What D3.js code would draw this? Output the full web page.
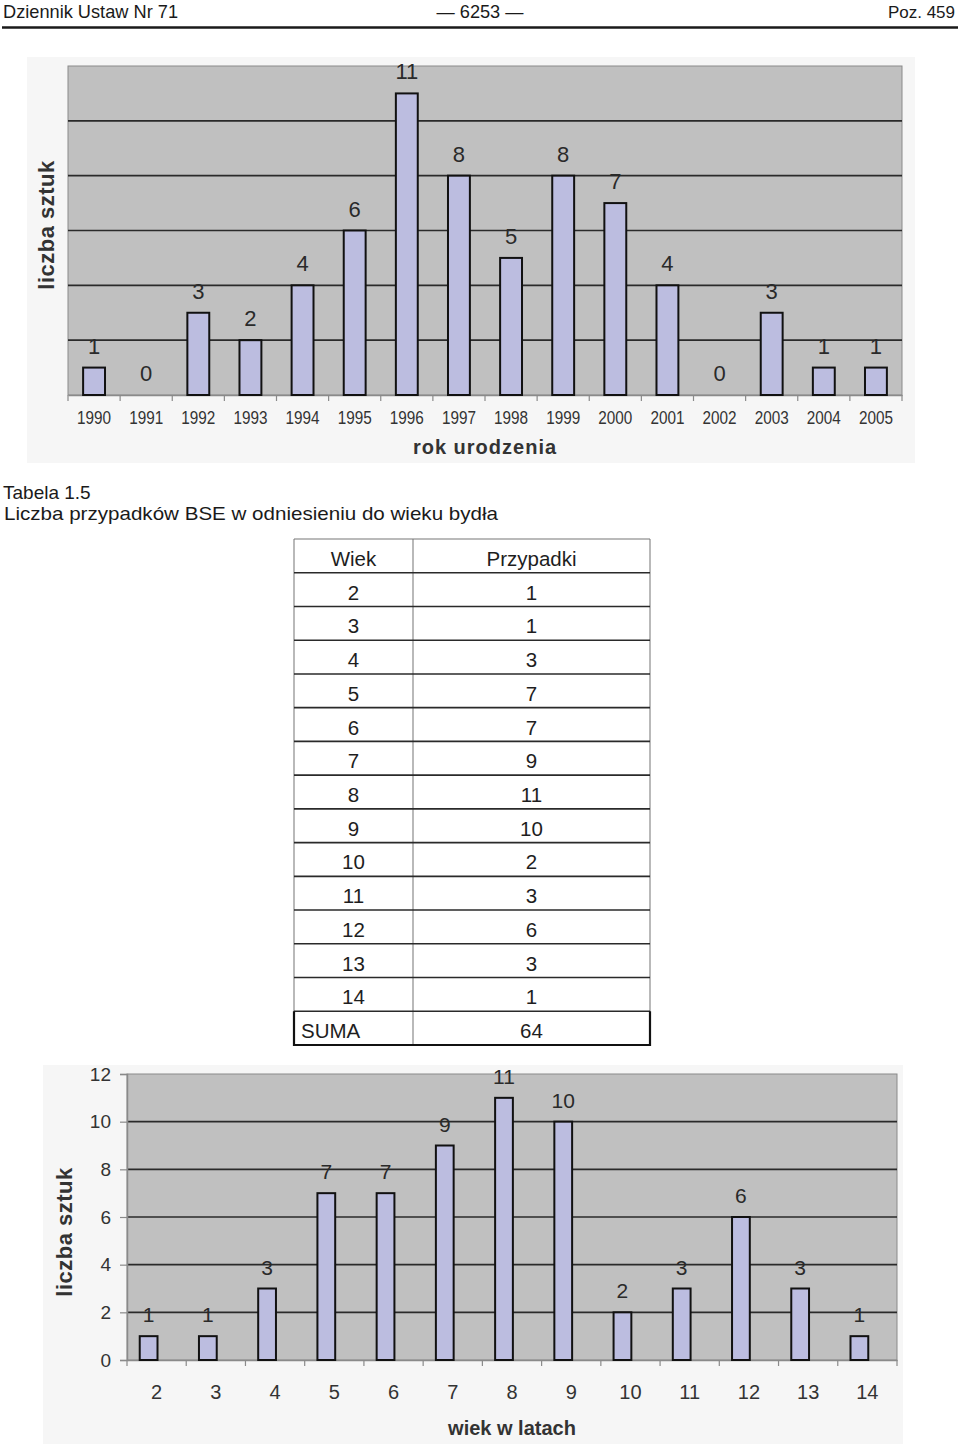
<!DOCTYPE html>
<html><head><meta charset="utf-8">
<script src="https://cdn.jsdelivr.net/npm/d3@7"></script>
<style>
html,body{margin:0;padding:0;background:#fff;}
svg text{font-family:"Liberation Sans",Arial,sans-serif;}
</style></head>
<body>
<svg id="page" width="960" height="1444"></svg>
<script>
// ---------- data ----------
const years = ["1990","1991","1992","1993","1994","1995","1996","1997","1998","1999","2000","2001","2002","2003","2004","2005"];
const yearCounts = [1,0,3,2,4,6,11,8,5,8,7,4,0,3,1,1];
const ages = ["2","3","4","5","6","7","8","9","10","11","12","13","14"];
const ageCounts = [1,1,3,7,7,9,11,10,2,3,6,3,1];
const yTicks = [0,2,4,6,8,10,12];
const tableHeader = ["Wiek","Przypadki"];
const sumLabel = "SUMA";

const svg = d3.select("#page");

function condense(sel, f){
  sel.each(function(){
    const l = this.getComputedTextLength();
    d3.select(this).attr("textLength", l*f).attr("lengthAdjust","spacingAndGlyphs");
  });
}

// ---------- header ----------
const hdr = svg.append("g").attr("fill","#1a1a1a").style("font-size","19px");
hdr.append("text").attr("x",3).attr("y",18).text("Dziennik Ustaw Nr 71").attr("textLength",175).attr("lengthAdjust","spacingAndGlyphs");
hdr.append("text").attr("x",480).attr("y",18).attr("text-anchor","middle").text("— 6253 —").attr("textLength",87).attr("lengthAdjust","spacingAndGlyphs");
hdr.append("text").attr("x",955).attr("y",18).attr("text-anchor","end").style("font-size","17px").text("Poz. 459");
svg.append("line").attr("x1",2).attr("x2",958).attr("y1",27.5).attr("y2",27.5).attr("stroke","#1a1a1a").attr("stroke-width",2.5);

// ---------- caption ----------
svg.append("text").attr("x",3).attr("y",499).style("font-size","19px").attr("fill","#1a1a1a").text("Tabela 1.5");
svg.append("text").attr("x",4).attr("y",520).style("font-size","19px").attr("fill","#1a1a1a")
  .text("Liczba przypadków BSE w odniesieniu do wieku bydła").attr("textLength",494).attr("lengthAdjust","spacingAndGlyphs");

// ---------- generic bar chart ----------
function barChart(o){
  const g = svg.append("g");
  g.append("rect").attr("x",o.bg[0]).attr("y",o.bg[1]).attr("width",o.bg[2]).attr("height",o.bg[3]).attr("fill","#f6f6f6");
  const x = d3.scaleBand().domain(o.cats).range([o.left,o.right]).paddingInner(o.pad).paddingOuter(o.pad/2);
  const y = d3.scaleLinear().domain([0,12]).range([o.bottom,o.top]);
  g.append("rect").attr("x",o.left).attr("y",o.top).attr("width",o.right-o.left).attr("height",o.bottom-o.top)
    .attr("fill","#c0c0c0").attr("stroke","#8a8a8a").attr("stroke-width",1);
  // gridlines
  g.selectAll(".grid").data(yTicks.filter(t=>t>0&&t<12)).join("line")
    .attr("x1",o.left).attr("x2",o.right).attr("y1",d=>y(d)).attr("y2",d=>y(d))
    .attr("stroke","#2a2a2a").attr("stroke-width",1.6);
  // x axis
  const step = x.step();
  const xa = g.append("g").attr("transform",`translate(0,${o.bottom})`)
    .call(d3.axisBottom(x).tickSize(0).tickPadding(0).tickFormat(""));
  xa.select(".domain").attr("stroke","#8a8a8a").attr("stroke-width",1.5);
  g.selectAll(".xt").data(d3.range(o.cats.length+1)).join("line")
    .attr("x1",i=>o.left+i*step).attr("x2",i=>o.left+i*step).attr("y1",o.bottom).attr("y2",o.bottom+6)
    .attr("stroke","#8a8a8a").attr("stroke-width",1.2);
  const xl = g.selectAll(".xl").data(o.cats).join("text")
    .attr("x",d=>x(d)+x.bandwidth()/2).attr("y",o.xLabelY).attr("text-anchor","middle")
    .style("font-size",o.xFont+"px").attr("fill","#333").text(d=>d);
  if(o.xCond) xl.call(condense,o.xCond);
  // y axis
  if(o.showY){
    const ya = g.append("g").attr("transform",`translate(${o.left},0)`)
      .call(d3.axisLeft(y).tickValues(yTicks).tickSize(7).tickPadding(9));
    ya.select(".domain").attr("stroke","#8a8a8a").attr("stroke-width",1.5);
    ya.selectAll(".tick line").attr("stroke","#8a8a8a").attr("stroke-width",1.2);
    ya.selectAll(".tick text").style("font-size","19px").attr("fill","#333")
      .style("font-family","'Liberation Sans',Arial,sans-serif");
  }
  // bars
  const bw = x.bandwidth();
  g.selectAll(".bar").data(o.vals).join("rect")
    .attr("x",(d,i)=>x(o.cats[i])+o.shift).attr("width",bw)
    .attr("y",d=>y(d)).attr("height",d=>o.bottom-y(d))
    .attr("fill","#bcbde0").attr("stroke","#111").attr("stroke-width",2)
    .attr("display",d=>d>0?null:"none");
  g.selectAll(".lab").data(o.vals).join("text")
    .attr("x",(d,i)=>x(o.cats[i])+o.shift+bw/2).attr("y",d=>y(d)-o.labGap)
    .attr("text-anchor","middle").style("font-size",o.labFont+"px").attr("fill","#2a2a2a").text(d=>d);
  // titles
  g.append("text").attr("x",o.xTitle[0]).attr("y",o.xTitle[1]).attr("text-anchor","middle")
    .style("font-size","20px").style("font-weight","bold").style("letter-spacing",o.xTitleLs+"px").attr("fill","#333").text(o.xTitleText);
  g.append("text").attr("transform",`translate(${o.yTitle[0]},${o.yTitle[1]}) rotate(-90)`).attr("text-anchor","middle")
    .style("font-size","22px").style("font-weight","bold").style("letter-spacing","0.5px").attr("fill","#333").text("liczba sztuk");
}

barChart({cats:years, vals:yearCounts, bg:[27,57,888,406], left:68, right:902, top:66, bottom:395, pad:0.58, shift:0,
  xLabelY:424, xFont:18, xCond:0.85, showY:false, labGap:14, labFont:22,
  xTitle:[485,454], xTitleLs:1, xTitleText:"rok urodzenia", yTitle:[54,225]});

barChart({cats:ages, vals:ageCounts, bg:[43,1065,860,379], left:127, right:897, top:1074, bottom:1360, pad:0.7, shift:-8,
  xLabelY:1399, xFont:20, xCond:0, showY:true, labGap:14, labFont:21,
  xTitle:[512,1435], xTitleLs:0, xTitleText:"wiek w latach", yTitle:[72,1232]});

// ---------- table ----------
const tl = 294, tr = 650, tm = 413, tt = 539, tb = 1045;
const rows = [tableHeader].concat(ages.map((a,i)=>[a,String(ageCounts[i])])).concat([[sumLabel,String(d3.sum(ageCounts))]]);
const ry = d3.scaleBand().domain(d3.range(rows.length)).range([tt,tb]);
const tg = svg.append("g");
// vertical lines
[tl,tm,tr].forEach(xx=>tg.append("line").attr("x1",xx).attr("x2",xx).attr("y1",tt).attr("y2",tb).attr("stroke","#8a8a8a").attr("stroke-width",1.2));
// horizontal lines
tg.selectAll(".hl").data(d3.range(rows.length+1)).join("line")
  .attr("x1",tl).attr("x2",tr)
  .attr("y1",i=>i<rows.length?ry(i):tb).attr("y2",i=>i<rows.length?ry(i):tb)
  .attr("stroke",i=>i===0?"#777":"#2a2a2a").attr("stroke-width",i=>i===0?1.2:1.6);
// SUMA box
const sy = ry(rows.length-1);
tg.append("path").attr("d",`M${tl},${sy} V${tb} H${tr} V${sy}`).attr("fill","none").attr("stroke","#111").attr("stroke-width",2.2);
// text
rows.forEach((r,i)=>{
  const cy = ry(i)+ry.bandwidth()/2+10;
  const isSum = i===rows.length-1;
  tg.append("text").attr("x",isSum?301:(tl+tm)/2).attr("y",cy).attr("text-anchor",isSum?"start":"middle")
    .style("font-size","20.5px").attr("fill","#1e1e1e").text(r[0]);
  tg.append("text").attr("x",(tm+tr)/2).attr("y",cy).attr("text-anchor","middle")
    .style("font-size","20.5px").attr("fill","#1e1e1e").text(r[1]);
});
</script>
</body></html>
